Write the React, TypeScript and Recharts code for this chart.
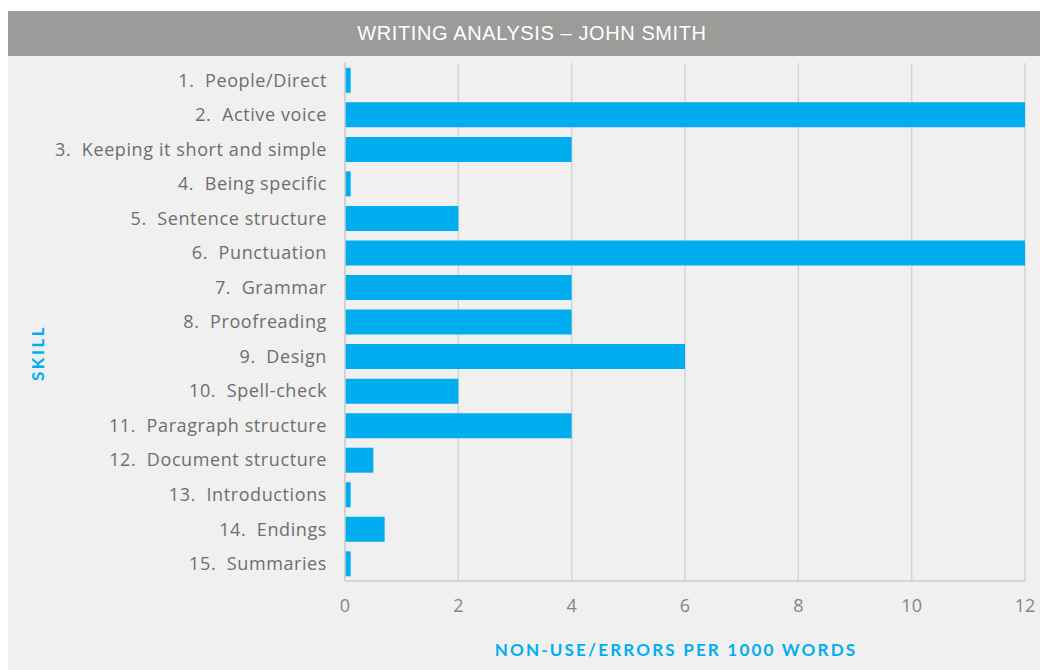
import { Bar, BarChart, CartesianGrid, Label, XAxis, YAxis } from "recharts";

const skills = [
  "1. People/Direct",
  "2. Active voice",
  "3. Keeping it short and simple",
  "4. Being specific",
  "5. Sentence structure",
  "6. Punctuation",
  "7. Grammar",
  "8. Proofreading",
  "9. Design",
  "10. Spell-check",
  "11. Paragraph structure",
  "12. Document structure",
  "13. Introductions",
  "14. Endings",
  "15. Summaries",
];
const errors = [0.1, 12, 4, 0.1, 2, 12, 4, 4, 6, 2, 4, 0.5, 0.1, 0.7, 0.1];
const xTicks = [0, 2, 4, 6, 8, 10, 12];

const data = skills.map((skill, i) => ({ skill, errors: errors[i] }));

const FONT = "'Open Sans', Lato, sans-serif";
const LABEL_FONT = "Lato, 'Open Sans', sans-serif";
const CYAN = "#00aeef";

// wider gap after the item number, like the original
function SkillTick({ x, y, payload }: any) {
  const text = String(payload.value).replace(/^(\d+\.) /, "$1\u00a0 ");
  return (
    <text
      x={x}
      y={y}
      dy="0.35em"
      textAnchor="end"
      fill="#6e6e6e"
      fontSize={18}
      letterSpacing={0.6}
      fontFamily={FONT}
    >
      {text}
    </text>
  );
}

export default function App() {
  return (
    <div
      style={{
        position: "fixed",
        left: 8,
        top: 11,
        width: 1032,
        height: 659,
        overflow: "hidden",
        fontFamily: FONT,
      }}
    >
      <div
        style={{
          height: 45,
          background: "#9b9b99",
          color: "#fff",
          fontFamily: "'Liberation Sans', Arial, sans-serif",
          fontSize: 20,
          letterSpacing: 0.6,
          lineHeight: "45px",
          textAlign: "center",
          paddingLeft: 16,
          boxSizing: "border-box",
        }}
      >
        WRITING ANALYSIS – JOHN SMITH
      </div>
      <div style={{ background: "#f0f0f0", height: 614 }}>
        <BarChart
          width={1032}
          height={614}
          data={data}
          layout="vertical"
          barCategoryGap="14%"
          margin={{ top: 7, right: 15, bottom: 0, left: 0 }}
        >
          <CartesianGrid horizontal={false} stroke="#d4d4d4" strokeWidth={1.5} />
          <XAxis
            type="number"
            domain={[0, 12]}
            ticks={xTicks}
            height={89}
            axisLine={{ stroke: "#cfcfcf", strokeWidth: 1.5 }}
            tickLine={false}
            tickSize={0}
            tickMargin={18}
            tick={{ fontSize: 18, fill: "#858585", fontFamily: FONT }}
          >
            <Label
              content={({ viewBox }: any) => (
                <text
                  x={viewBox.x + viewBox.width / 2 - 9}
                  y={viewBox.y + 75}
                  textAnchor="middle"
                  fill={CYAN}
                  fontSize={17}
                  fontWeight={700}
                  letterSpacing={2.2}
                  fontFamily={LABEL_FONT}
                >
                  NON-USE/ERRORS PER 1000 WORDS
                </text>
              )}
            />
          </XAxis>
          <YAxis
            type="category"
            dataKey="skill"
            width={337}
            axisLine={{ stroke: "#cfcfcf", strokeWidth: 1.5 }}
            tickLine={false}
            tickSize={0}
            tickMargin={18}
            interval={0}
            tick={<SkillTick />}
          >
            <Label
              content={({ viewBox }: any) => {
                const cx = 29;
                const cy = viewBox.y + viewBox.height / 2 + 31;
                return (
                  <text
                    x={cx}
                    y={cy}
                    transform={`rotate(-90 ${cx} ${cy})`}
                    textAnchor="middle"
                    dominantBaseline="central"
                    fill={CYAN}
                    fontSize={17}
                    fontWeight={700}
                    letterSpacing={2.5}
                    fontFamily={LABEL_FONT}
                  >
                    SKILL
                  </text>
                );
              }}
            />
          </YAxis>
          <Bar dataKey="errors" fill={CYAN} isAnimationActive={false} />
        </BarChart>
      </div>
    </div>
  );
}
